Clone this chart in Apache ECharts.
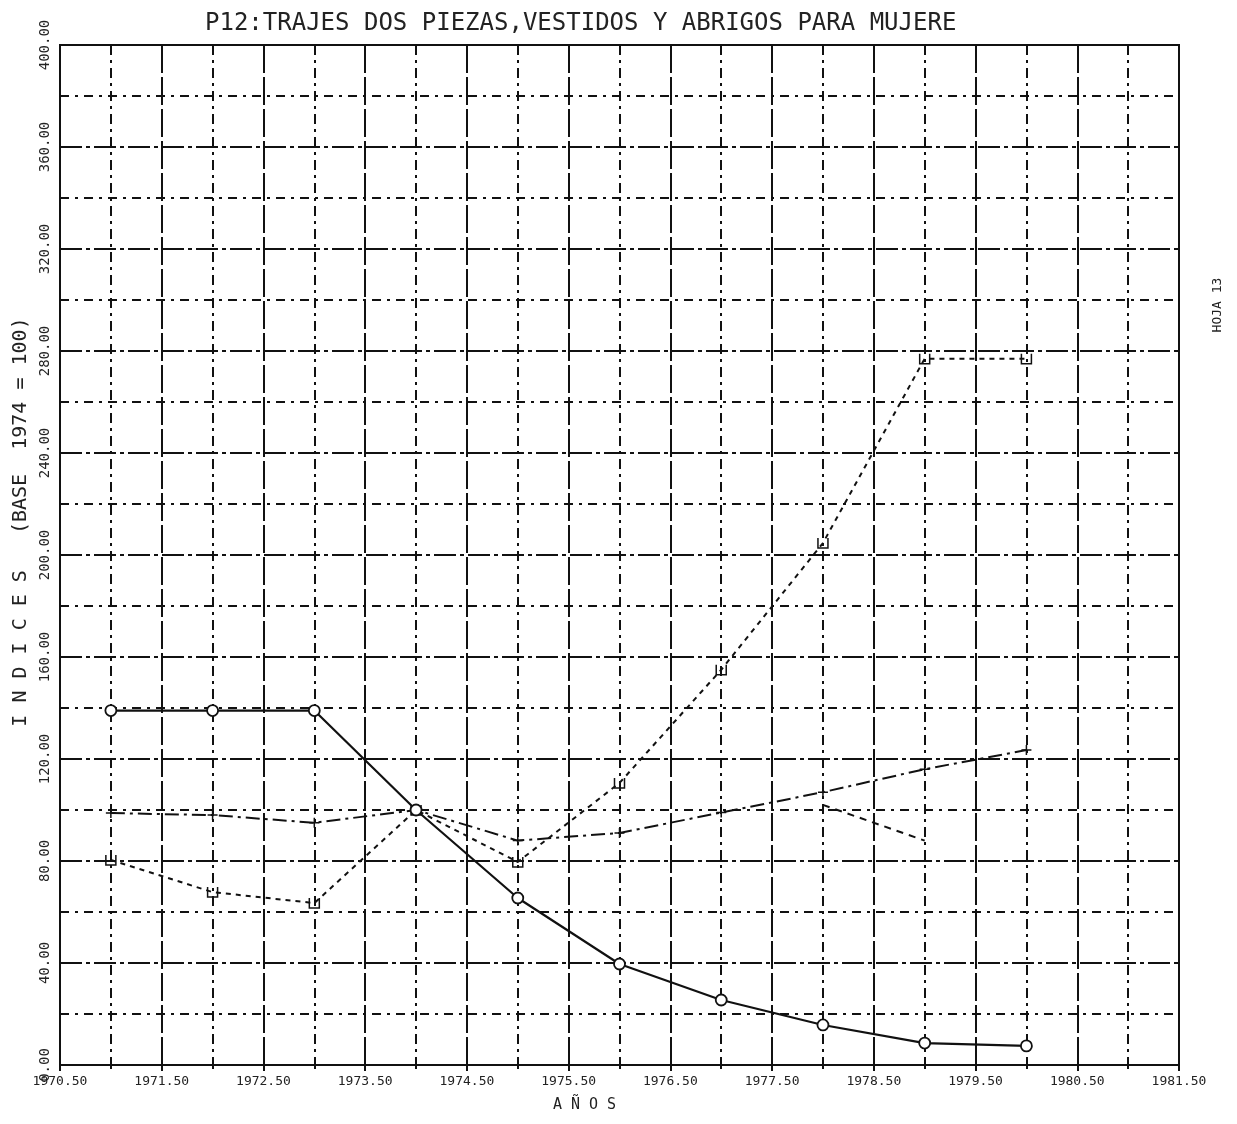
<!DOCTYPE html>
<html><head><meta charset="utf-8">
<script src="https://cdn.jsdelivr.net/npm/echarts@6/dist/echarts.min.js"></script>
<style>html,body{margin:0;padding:0;background:#fff}#c{width:1237px;height:1124px}</style>
</head><body><div id="c"></div>
<script>
// ---- data ----
const years = [1971, 1972, 1973, 1974, 1975, 1976, 1977, 1978, 1979, 1980];
const serieTrajes = [139, 139, 139, 100, 65.5, 39.6, 25.5, 15.7, 8.6, 7.5];
const serieB = [98.8, 98, 95, 100, 88, 91, 99, 107, 116, 123.5];
const serieC = [80.4, 67.8, 63.5, 100, 79.6, 110.6, 155, 204.7, 277, 277];
const serieD = [null, null, null, null, null, null, null, 102, 88, null];
const titleText = 'P12:TRAJES DOS PIEZAS,VESTIDOS Y ABRIGOS PARA MUJERE';
const xName = 'A Ñ O S';
const yName = 'I N D I C E S   (BASE  1974 = 100)';
const sideNote = 'HOJA 13';

const MONO = '"DejaVu Sans Mono", "Liberation Mono", monospace';
const INK = '#111';
const pairs = arr => years.map((y, i) => [y, arr[i]]);

const chart = echarts.init(document.getElementById('c'));
chart.setOption({
  backgroundColor: '#fff',
  animation: false,
  grid: { left: 60, right: 58, top: 45, bottom: 59, show: true, borderColor: INK, borderWidth: 2 },
  xAxis: {
    type: 'value', min: 1970.5, max: 1981.5, interval: 1,
    name: xName, nameLocation: 'middle', nameGap: 33,
    nameTextStyle: { fontFamily: MONO, fontSize: 15, color: '#222', padding: [0, 70, 0, 0] },
    axisLine: { show: true, lineStyle: { color: INK, width: 2 } },
    axisTick: { show: true, length: 6, lineStyle: { color: INK, width: 2 } },
    minorTick: { show: true, splitNumber: 2, length: 4, lineStyle: { color: INK, width: 2 } },
    axisLabel: { formatter: v => v.toFixed(2), fontFamily: MONO, fontSize: 13, color: '#222', margin: 10 },
    splitLine: { show: true, lineStyle: { color: INK, width: 2, type: [28, 4] } },
    minorSplitLine: { show: true, lineStyle: { color: INK, width: 2, type: [10, 5, 3, 5] } }
  },
  yAxis: {
    type: 'value', min: 0, max: 400, interval: 40,
    axisLine: { show: true, lineStyle: { color: INK, width: 2 } },
    axisTick: { show: false },
    minorTick: { show: false, splitNumber: 2 },
    axisLabel: { rotate: 90, formatter: v => v.toFixed(2), fontFamily: MONO, fontSize: 14, color: '#222', margin: 8 },
    splitLine: { show: true, lineStyle: { color: INK, width: 2, type: [22, 4, 4, 4] } },
    minorSplitLine: { show: true, lineStyle: { color: INK, width: 2, type: [9, 6, 3, 6] } }
  },
  graphic: [
    { type: 'text', left: 205, top: 12, style: { text: titleText, font: '24px ' + MONO, fill: '#222' } },
    { type: 'text', x: 21, y: 522, rotation: Math.PI / 2,
      style: { text: yName, font: '20px ' + MONO, fill: '#222', align: 'center', verticalAlign: 'middle' } },
    { type: 'text', x: 1218, y: 305, rotation: Math.PI / 2,
      style: { text: sideNote, font: '13px ' + MONO, fill: '#222', align: 'center', verticalAlign: 'middle' } }
  ],
  series: [
    { type: 'line', data: pairs(serieTrajes), symbol: 'circle', symbolSize: 11, z: 5,
      itemStyle: { color: '#fff', borderColor: INK, borderWidth: 1.8 },
      lineStyle: { color: INK, width: 2.2 } },
    { type: 'line', data: pairs(serieB), symbol: 'path://M5,0 L5,10 M0,5 L10,5', symbolSize: 10, z: 4,
      itemStyle: { color: 'rgba(0,0,0,0)', borderColor: INK, borderWidth: 1.5 },
      lineStyle: { color: INK, width: 2, type: [14, 5, 3, 5] } },
    { type: 'line', data: pairs(serieC), symbol: 'path://M0,0 L0,10 L10,10 L10,0', symbolSize: 10, z: 4,
      itemStyle: { color: 'rgba(0,0,0,0)', borderColor: INK, borderWidth: 1.5 },
      lineStyle: { color: INK, width: 2, type: [5, 5] } },
    { type: 'line', data: pairs(serieD), symbol: 'none', connectNulls: false, z: 3,
      lineStyle: { color: INK, width: 2, type: [7, 6] } }
  ]
});
</script></body></html>
